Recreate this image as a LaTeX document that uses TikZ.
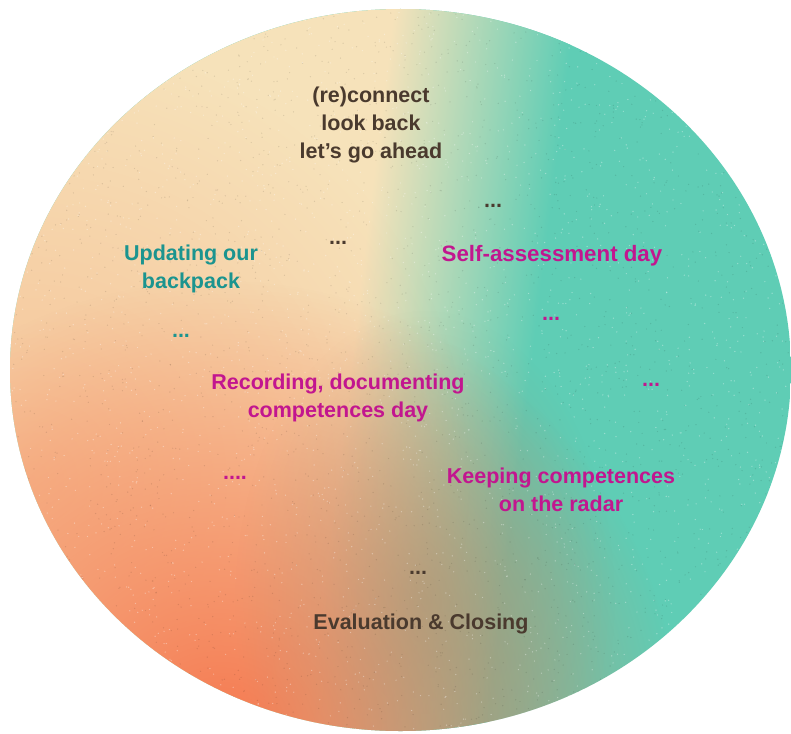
\documentclass[tikz,border=0pt]{standalone}
\usepackage{fontspec}
\setmainfont{Liberation Sans}
\usetikzlibrary{fadings}
\definecolor{creamc}{HTML}{F6E2BA}
\definecolor{tealc}{HTML}{5FCDB5}
\definecolor{peachc}{HTML}{F6BE92}
\definecolor{orangec}{HTML}{F5774E}
\definecolor{mudc}{HTML}{A39474}
\definecolor{darktxt}{HTML}{4A3A2E}
\definecolor{magtxt}{HTML}{C2168F}
\definecolor{tealtxt}{HTML}{1B948F}
\tikzfading[name=radfade, inner color=transparent!0, outer color=transparent!100]
\tikzset{
  lbl/.style={font=\fontsize{21.5}{28}\selectfont\bfseries, align=center, inner sep=0pt},
  dark/.style={lbl, text=darktxt},
  mag/.style={lbl, text=magtxt},
  tl/.style={lbl, text=tealtxt},
  grainw/.style={fill=white, opacity=0.35},
  graind/.style={fill=black, opacity=0.10},
}
\begin{document}
\begin{tikzpicture}[x=1pt, y=-1pt]
\useasboundingbox (0,0) rectangle (791,733);
\fill[white] (0,0) rectangle (791,733);
\begin{scope}
  \clip (400.5,370) ellipse [x radius=390.5, y radius=361];
  \fill[tealc] (0,0) rectangle (791,733);
  \begin{scope}[transform canvas={rotate around={-7:(430,370)}}]
    \fill[creamc] (-300,-300) rectangle (375,1100);
    \shade[left color=creamc, right color=tealc] (350,-300) rectangle (530,1100);
  \end{scope}
  \fill[peachc, path fading=radfade, fill opacity=0.9] (30,480) circle (440);
  \fill[orangec, path fading=radfade] (220,740) circle (460);
  \fill[mudc, path fading=radfade, fill opacity=0.55] (425,600) ellipse [x radius=190, y radius=290];
  \pgfmathsetseed{7}
  \foreach \i in {1,...,2500} {
    \fill[grainw] (rnd*791, rnd*733) circle (0.7);
    \fill[graind] (rnd*791, rnd*733) circle (0.7);
  }
\end{scope}
\node[dark] (top) at (371,125) {(re)connect\\look back\\let’s go ahead};
\node[dark] (d1) at (493,206) {...};
\node[dark] (d2) at (338,243) {...};
\node[tl] (upd) at (191,269) {Updating our\\backpack};
\node[mag, font=\fontsize{22.3}{28}\selectfont\bfseries] (self) at (552,256) {Self-assessment day};
\node[mag] (d3) at (551,319) {...};
\node[tl] (d4) at (181,336) {...};
\node[mag] (rec) at (338,398) {Recording, documenting\\competences day};
\node[mag] (d5) at (651,385) {...};
\node[mag] (d6) at (235,478) {....};
\node[mag] (keep) at (561,490) {Keeping competences\\on the radar};
\node[dark] (d7) at (418,573) {...};
\node[dark] (eval) at (421,624) {Evaluation \& Closing};
\end{tikzpicture}
\end{document}
